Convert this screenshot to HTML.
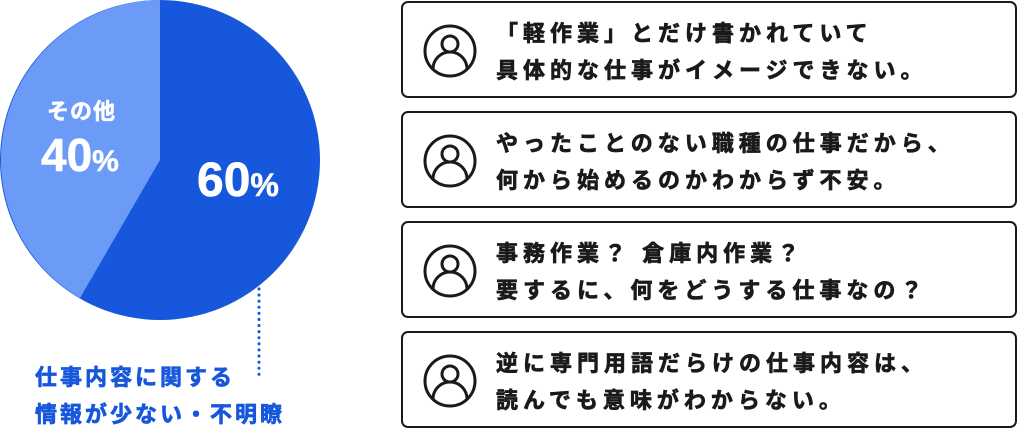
<!DOCTYPE html>
<html><head><meta charset="utf-8"><style>
body{margin:0;width:1020px;height:430px;background:#fff;position:relative;overflow:hidden;font-family:"Liberation Sans","Noto Sans CJK JP",sans-serif;font-weight:bold}
.b{position:absolute;left:401px;width:616px;height:97px;border:2px solid #1a1a1a;border-radius:7px;box-sizing:border-box}
.b svg{position:absolute;left:20px;top:21px}
.b .t{position:absolute;left:93px;top:12px;font-size:22px;line-height:37px;letter-spacing:5px;color:#1a1a1a;white-space:nowrap;-webkit-text-stroke:0.7px #1a1a1a}
.w{position:absolute;color:#fff;white-space:nowrap;-webkit-text-stroke:0.6px #fff}
.bl{position:absolute;color:#1657dc;left:35px;font-size:22px;letter-spacing:3px;white-space:nowrap;-webkit-text-stroke:0.7px #1657dc}
</style></head><body>
<svg width="330" height="430" style="position:absolute;left:0;top:0">
<circle cx="160" cy="160" r="160" fill="#1657dc"/>
<path d="M160 160 L160 0 A160 160 0 0 0 80 298 Z" fill="#6b9bf7"/>
<line x1="259" y1="234" x2="259" y2="378" stroke="#1657dc" stroke-width="3" stroke-dasharray="0.1 6" stroke-linecap="round"/>
</svg>
<div class="w" style="left:47px;top:94px;font-size:22px;letter-spacing:1px">その他</div>
<div class="w" style="left:41px;top:128px;font-size:46px">40<span style="font-size:30px">%</span></div>
<div class="w" style="left:197px;top:153px;font-size:48px">60<span style="font-size:32px">%</span></div>
<div class="bl" style="top:360px">仕事内容に関する</div>
<div class="bl" style="top:397px">情報が少ない・不明瞭</div>

<div class="b" style="top:1px"><svg width="54" height="54"><circle cx="27" cy="27" r="25" fill="none" stroke="#1a1a1a" stroke-width="3"/><circle cx="27" cy="20" r="8" fill="none" stroke="#1a1a1a" stroke-width="3"/><path d="M10 45 A17 17 0 0 1 44 45" fill="none" stroke="#1a1a1a" stroke-width="3"/></svg><div class="t">「軽作業」とだけ書かれていて<br>具体的な仕事がイメージできない。</div></div>
<div class="b" style="top:111px"><svg width="54" height="54"><circle cx="27" cy="27" r="25" fill="none" stroke="#1a1a1a" stroke-width="3"/><circle cx="27" cy="20" r="8" fill="none" stroke="#1a1a1a" stroke-width="3"/><path d="M10 45 A17 17 0 0 1 44 45" fill="none" stroke="#1a1a1a" stroke-width="3"/></svg><div class="t">やったことのない職種の仕事だから、<br>何から始めるのかわからず不安。</div></div>
<div class="b" style="top:221px"><svg width="54" height="54"><circle cx="27" cy="27" r="25" fill="none" stroke="#1a1a1a" stroke-width="3"/><circle cx="27" cy="20" r="8" fill="none" stroke="#1a1a1a" stroke-width="3"/><path d="M10 45 A17 17 0 0 1 44 45" fill="none" stroke="#1a1a1a" stroke-width="3"/></svg><div class="t">事務作業？ 倉庫内作業？<br>要するに、何をどうする仕事なの？</div></div>
<div class="b" style="top:331px"><svg width="54" height="54"><circle cx="27" cy="27" r="25" fill="none" stroke="#1a1a1a" stroke-width="3"/><circle cx="27" cy="20" r="8" fill="none" stroke="#1a1a1a" stroke-width="3"/><path d="M10 45 A17 17 0 0 1 44 45" fill="none" stroke="#1a1a1a" stroke-width="3"/></svg><div class="t">逆に専門用語だらけの仕事内容は、<br>読んでも意味がわからない。</div></div>
</body></html>
